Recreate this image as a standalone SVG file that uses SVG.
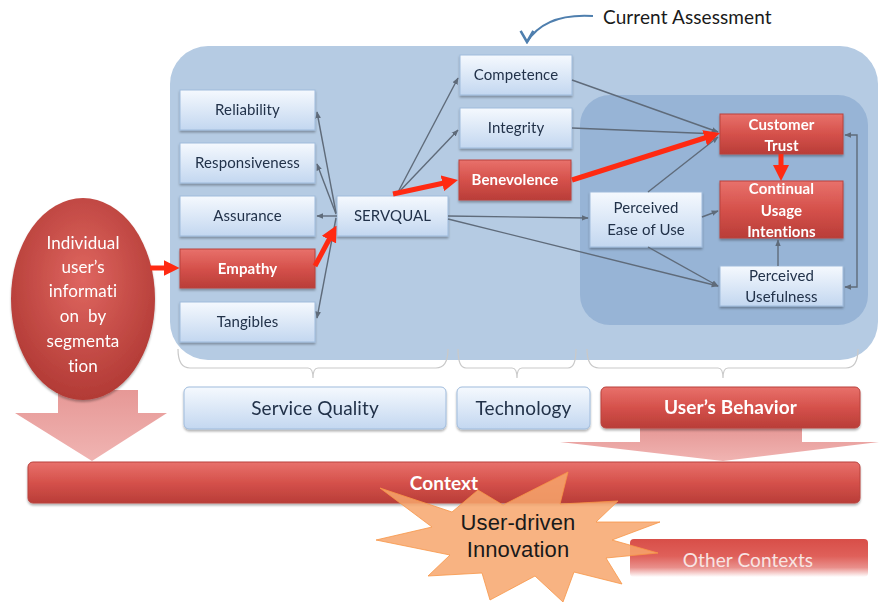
<svg xmlns="http://www.w3.org/2000/svg" width="879" height="602" viewBox="0 0 879 602">
<defs>
<style>
text{font-variant-ligatures:none;font-feature-settings:"liga" 0,"clig" 0,"dlig" 0,"calt" 0;letter-spacing:0.1px}
.t{font-family:Lato,"Open Sans","Liberation Sans",sans-serif;font-size:15px;fill:#22324a;text-anchor:middle}
.tw{font-family:Lato,"Open Sans","Liberation Sans",sans-serif;font-size:15px;font-weight:bold;fill:#ffffff;text-anchor:middle}
.big{font-size:19px}
.rn{fill:url(#gr);stroke:#b9423d;stroke-width:1}
.g{fill:none;stroke:#5f6b7a;stroke-width:1.4;marker-end:url(#ag)}
.r{fill:none;stroke:#ff2a12;stroke-width:5;marker-end:url(#ar)}
.br{fill:none;stroke:#c9c9c9;stroke-width:1.2}
</style>
<linearGradient id="gl" x1="0" y1="0" x2="0" y2="1"><stop offset="0" stop-color="#f5f9fe"/><stop offset="1" stop-color="#c3d7f0"/></linearGradient>
<linearGradient id="gr" x1="0" y1="0" x2="0" y2="1"><stop offset="0" stop-color="#e8716b"/><stop offset="0.5" stop-color="#d5514b"/><stop offset="1" stop-color="#b93d38"/></linearGradient>
<linearGradient id="go" x1="0" y1="0" x2="0" y2="1"><stop offset="0" stop-color="#d84e48"/><stop offset="0.45" stop-color="#df605a"/><stop offset="0.75" stop-color="#e98f8b"/><stop offset="1" stop-color="#ffffff"/></linearGradient>
<linearGradient id="gp" x1="0" y1="0" x2="0" y2="1"><stop offset="0" stop-color="#e69896"/><stop offset="1" stop-color="#f0b4b2"/></linearGradient>
<radialGradient id="ge" cx="0.5" cy="0.4" r="0.6"><stop offset="0" stop-color="#df6660"/><stop offset="1" stop-color="#b23a35"/></radialGradient>
<filter id="sh" x="-10%" y="-10%" width="120%" height="140%"><feDropShadow dx="0" dy="2" stdDeviation="1.2" flood-color="#000" flood-opacity="0.3"/></filter>
<marker id="ag" viewBox="0 0 10 10" refX="9" refY="5" markerWidth="7" markerHeight="7" markerUnits="userSpaceOnUse" orient="auto-start-reverse"><path d="M0,1 L10,5 L0,9 z" fill="#5f6b7a"/></marker>
<marker id="ar" viewBox="0 0 10 10" refX="4" refY="5" markerWidth="16" markerHeight="16" markerUnits="userSpaceOnUse" orient="auto"><path d="M0,0 L10,5 L0,10 z" fill="#ff2a12"/></marker>
<marker id="ac" viewBox="0 0 10 10" refX="5" refY="9" markerWidth="16" markerHeight="16" markerUnits="userSpaceOnUse" orient="0"><path d="M1,2 L5,9 L9,2" fill="none" stroke="#4f7fae" stroke-width="1.6"/></marker>
</defs>
<rect width="879" height="602" fill="#ffffff"/>

<!-- pink big arrows -->
<path d="M58,390 L138,390 L138,413 L167,413 L92,461 L15,413 L58,413 z" fill="url(#gp)"/>
<path d="M640,428 L802,428 L802,442 L879,442 L723,461 L560,442 L640,442 z" fill="url(#gp)"/>

<!-- containers -->
<g id="current-assessment-area">
<rect x="170" y="46" width="708" height="314" rx="38" fill="#b5cbe3"/>
<rect x="580" y="95" width="288" height="230" rx="30" fill="#97b4d6"/>
</g>

<g id="current-assessment-label">
<path d="M593,16 Q545,13 527,42" fill="none" stroke="#4f7fae" stroke-width="2" marker-end="url(#ac)"/>
<text x="603" y="24" font-family="Lato,'Open Sans','Liberation Sans',sans-serif" font-size="19" fill="#1a1a1a">Current Assessment</text>
</g>

<!-- braces -->
<g id="braces">
<path class="br" d="M178,349 Q178,368 190,368 L308,368 Q313,368 313,378 Q313,368 318,368 L436,368 Q448,368 448,349"/>
<path class="br" d="M458,349 Q458,368 466,368 L512,368 Q517,368 517,378 Q517,368 522,368 L568,368 Q576,368 576,349"/>
<path class="br" d="M587,349 Q587,368 599,368 L718,368 Q723,368 723,378 Q723,368 728,368 L846,368 Q858,368 858,349"/>
</g>

<g id="reliability" filter="url(#sh)"><rect x="180" y="90" width="135" height="40" fill="url(#gl)" stroke="#9fbbdc"/><text class="t" x="247.5" y="115">Reliability</text></g>
<g id="responsiveness" filter="url(#sh)"><rect x="180" y="143" width="135" height="40" fill="url(#gl)" stroke="#9fbbdc"/><text class="t" x="247.5" y="168">Responsiveness</text></g>
<g id="assurance" filter="url(#sh)"><rect x="180" y="196" width="135" height="40" fill="url(#gl)" stroke="#9fbbdc"/><text class="t" x="247.5" y="221">Assurance</text></g>
<g id="empathy" filter="url(#sh)"><rect class="rn" x="180" y="249" width="135" height="39"/><text class="tw" x="247.5" y="274">Empathy</text></g>
<g id="tangibles" filter="url(#sh)"><rect x="180" y="302" width="135" height="40" fill="url(#gl)" stroke="#9fbbdc"/><text class="t" x="247.5" y="327">Tangibles</text></g>
<g id="servqual" filter="url(#sh)"><rect x="337" y="196" width="111" height="40" fill="url(#gl)" stroke="#9fbbdc"/><text class="t" x="392.5" y="221">SERVQUAL</text></g>
<g id="competence" filter="url(#sh)"><rect x="460" y="55" width="112" height="40" fill="url(#gl)" stroke="#9fbbdc"/><text class="t" x="516" y="80">Competence</text></g>
<g id="integrity" filter="url(#sh)"><rect x="460" y="108" width="112" height="40" fill="url(#gl)" stroke="#9fbbdc"/><text class="t" x="516" y="133">Integrity</text></g>
<g id="benevolence" filter="url(#sh)"><rect class="rn" x="459" y="160" width="112" height="40"/><text class="tw" x="515" y="185">Benevolence</text></g>
<g id="perceived-ease-of-use" filter="url(#sh)"><rect x="590" y="192" width="112" height="55" fill="url(#gl)" stroke="#9fbbdc"/><text class="t" x="646" y="213">Perceived</text><text class="t" x="646" y="235">Ease of Use</text></g>
<g id="customer-trust" filter="url(#sh)"><rect class="rn" x="720" y="114" width="123" height="40"/><text class="tw" x="781.5" y="130">Customer</text><text class="tw" x="781.5" y="151">Trust</text></g>
<g id="continual-usage-intentions" filter="url(#sh)"><rect class="rn" x="720" y="181" width="123" height="57"/><text class="tw" x="781.5" y="194">Continual</text><text class="tw" x="781.5" y="216">Usage</text><text class="tw" x="781.5" y="237">Intentions</text></g>
<g id="perceived-usefulness" filter="url(#sh)"><rect x="720" y="266" width="123" height="40" fill="url(#gl)" stroke="#9fbbdc"/><text class="t" x="781.5" y="281">Perceived</text><text class="t" x="781.5" y="302">Usefulness</text></g>

<g id="individual-info" filter="url(#sh)">
<ellipse cx="83" cy="299" rx="72" ry="101" fill="url(#ge)"/>
<text class="t" style="fill:#ffffff;font-size:17px" x="83" y="249">Individual</text>
<text class="t" style="fill:#ffffff;font-size:17px" x="83" y="273">user’s</text>
<text class="t" style="fill:#ffffff;font-size:17px" x="83" y="297">informati</text>
<text class="t" style="fill:#ffffff;font-size:17px" x="83" y="322" xml:space="preserve">on  by</text>
<text class="t" style="fill:#ffffff;font-size:17px" x="83" y="347">segmenta</text>
<text class="t" style="fill:#ffffff;font-size:17px" x="83" y="372">tion</text>
</g>

<g id="connectors">
<path class="g" d="M336,213 L317,112"/>
<path class="g" d="M336,214 L317,164"/>
<path class="g" d="M337,216 L317,216"/>
<path class="g" d="M336,218 L317,318"/>
<path class="g" d="M397,194 L458,78"/>
<path class="g" d="M397,194 L458,130"/>
<path class="g" d="M448,216 L588,218"/>
<path class="g" d="M448,219 L718,286"/>
<path class="g" d="M572,80 L718,132"/>
<path class="g" d="M572,128 L718,134"/>
<path class="g" d="M648,192 L718,137"/>
<path class="g" d="M702,217 L718,211"/>
<path class="g" d="M648,247 L718,286"/>
<path class="g" d="M778,266 L778,240"/>
<path class="g" d="M845,135 L857,135 L857,287 L845,287" marker-start="url(#ag)"/>
<path class="r" d="M150,268 L170,268"/>
<path class="r" d="M315,266 L332,234"/>
<path class="r" d="M393,194 L448.6,182"/>
<path class="r" d="M572,180 L710.8,136"/>
<path class="r" d="M781,154 L781,171.4"/>
</g>

<g id="service-quality" filter="url(#sh)"><rect x="184" y="387" width="262" height="42" rx="5" fill="url(#gl)" stroke="#9fbbdc"/><text class="t big" x="315" y="415">Service Quality</text></g>
<g id="technology" filter="url(#sh)"><rect x="457" y="387" width="133" height="42" rx="5" fill="url(#gl)" stroke="#9fbbdc"/><text class="t big" x="523.5" y="415">Technology</text></g>
<g id="users-behavior" filter="url(#sh)"><rect class="rn" x="601" y="387" width="259" height="41" rx="5"/><text class="tw big" x="730.5" y="414">User’s Behavior</text></g>

<g id="context" filter="url(#sh)"><rect class="rn" x="28" y="462" width="832" height="41" rx="5"/></g>

<g id="other-contexts"><rect x="630" y="539" width="238" height="38" rx="4" fill="url(#go)"/><text class="t big" style="fill:#f8e4e3" x="748" y="567">Other Contexts</text></g>

<g id="user-driven-innovation">
<path d="M380,488 L452,512 L478,490 L503,505 L568,472 L560,504 L618,501 L596,522 L660,522 L612,540 L658,553 L606,558 L622,584 L574,572 L563,602 L535,576 L490,600 L482,573 L428,576 L450,555 L376,540 L432,527 z" fill="#f7a66c" fill-opacity="0.85" stroke="#f79646" stroke-width="0.8"/>
<text x="518" y="530" font-family="'Liberation Sans',Arial,sans-serif" font-size="22" fill="#1a1a1a" text-anchor="middle">User-driven</text>
<text x="518" y="557" font-family="'Liberation Sans',Arial,sans-serif" font-size="22" fill="#1a1a1a" text-anchor="middle">Innovation</text>
</g>
<text class="tw big" x="444" y="490">Context</text>
</svg>
